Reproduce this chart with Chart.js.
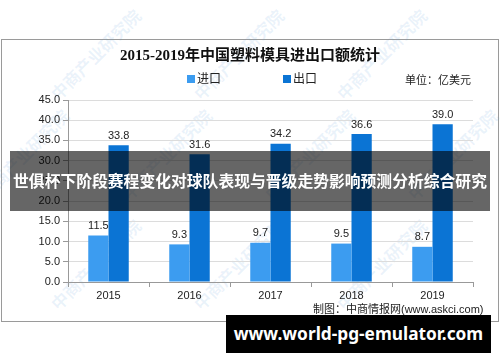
<!DOCTYPE html>
<html>
<head>
<meta charset="utf-8">
<script src="https://cdn.jsdelivr.net/npm/chart.js@4.4.1/dist/chart.umd.min.js"></script>
<style>
  html, body { margin: 0; padding: 0; background: #fff; }
  #wrap { position: relative; width: 500px; height: 362px; overflow: hidden;
          font-family: "Liberation Sans", "Noto Sans CJK SC", sans-serif; color: #222; }
  #frame { position: absolute; left: 1px; top: 39px; width: 496px; height: 281px; border: 1px solid #9a9a9a; }
  #chart { position: absolute; left: 0; top: 0; }
  .txt { position: absolute; white-space: nowrap; line-height: 1; }
  #title { left: 0; width: 500px; top: 48px; text-align: center; font-size: 15px; font-weight: bold;
           font-family: "Liberation Serif", "Noto Sans CJK SC", serif; color: #111; }
  .sq { position: absolute; width: 8px; height: 8px; }
  .wm { position: absolute; white-space: nowrap; font-size: 17px; font-weight: bold;
        color: rgba(90, 155, 215, 0.12); transform: rotate(-45deg); transform-origin: left bottom;
        font-family: "Noto Sans CJK SC", sans-serif; }
  #band { position: absolute; left: 10px; top: 151px; width: 480px; height: 60px; background: rgba(0,0,0,0.6);
          color: #fff; font-weight: bold; font-size: 15.8px; line-height: 60px; text-align: center;
          font-family: "Noto Sans CJK SC", sans-serif; white-space: nowrap; }
  #site { position: absolute; left: 226px; top: 315px; width: 265px; height: 38px; background: #000;
          color: #fff; font-weight: bold; font-size: 17.3px; line-height: 38px; text-align: center;
          font-family: "Noto Sans", "DejaVu Sans", sans-serif; white-space: nowrap; }
</style>
</head>
<body>
<div id="wrap">
  <div id="frame"></div>
  <div class="wm" style="left:62px; top:80px;">中商产业研究院</div>
  <div class="wm" style="left:205px; top:80px;">中商产业研究院</div>
  <div class="wm" style="left:348px; top:80px;">中商产业研究院</div>
  <div class="wm" style="left:-10px; top:180px;">中商产业研究院</div>
  <div class="wm" style="left:133px; top:180px;">中商产业研究院</div>
  <div class="wm" style="left:276px; top:180px;">中商产业研究院</div>
  <div class="wm" style="left:419px; top:180px;">中商产业研究院</div>
  <div class="wm" style="left:62px; top:290px;">中商产业研究院</div>
  <div class="wm" style="left:205px; top:290px;">中商产业研究院</div>
  <div class="wm" style="left:348px; top:290px;">中商产业研究院</div>
  <canvas id="chart" width="500" height="362"></canvas>
  <div id="title" class="txt">2015-2019年中国塑料模具进出口额统计</div>
  <div class="sq" style="left:187px; top:75px; background:#3c9cf0;"></div>
  <div class="txt" style="left:197px; top:73px; font-size:12px;">进口</div>
  <div class="sq" style="left:283px; top:75px; background:#0b74d4;"></div>
  <div class="txt" style="left:293px; top:73px; font-size:12px;">出口</div>
  <div class="txt" style="left:405px; top:75px; font-size:11px;">单位：亿美元</div>
  <div class="txt" style="left:313px; top:304px; font-size:11px;">制图：中商情报网(www.askci.com)</div>
  <div id="band">世俱杯下阶段赛程变化对球队表现与晋级走势影响预测分析综合研究</div>
  <div id="site">www.world-pg-emulator.com</div>
</div>
<script>
// Data
const years = ['2015', '2016', '2017', '2018', '2019'];
const importValues = [11.5, 9.3, 9.7, 9.5, 8.7];
const exportValues = [33.8, 31.6, 34.2, 36.6, 39.0];
const seriesNames = ['进口', '出口'];

// value labels above bars
const valueLabels = {
    id: 'valueLabels',
    afterDatasetsDraw(chart) {
        const ctx = chart.ctx;
        ctx.save();
        ctx.font = '11px "Liberation Sans", sans-serif';
        ctx.fillStyle = '#222';
        ctx.textAlign = 'center';
        ctx.textBaseline = 'bottom';
        chart.data.datasets.forEach((ds, i) => {
            chart.getDatasetMeta(i).data.forEach((bar, j) => {
                ctx.fillText(ds.data[j].toFixed(1), bar.x, bar.y - 4);
            });
        });
        ctx.restore();
    }
};

new Chart(document.getElementById('chart'), {
    type: 'bar',
    data: {
        labels: years,
        datasets: [
            { label: seriesNames[0], data: importValues, backgroundColor: '#3c9cf0', borderWidth: 0 },
            { label: seriesNames[1], data: exportValues, backgroundColor: '#0b74d4', borderWidth: 0 }
        ]
    },
    options: {
        responsive: false,
        animation: false,
        categoryPercentage: 0.5,
        barPercentage: 1.0,
        layout: { padding: { left: 23, right: 27, top: 100, bottom: 58 } },
        plugins: {
            legend: { display: false },
            title: { display: false },
            tooltip: { enabled: false }
        },
        scales: {
            x: {
                grid: { display: true, drawOnChartArea: false, tickLength: 5, color: '#999' },
                border: { display: true, color: '#999' },
                ticks: { color: '#222', padding: 2, font: { size: 11, family: '"Liberation Sans", sans-serif' } },
                afterFit: (s) => { s.height = 22; }
            },
            y: {
                min: 0,
                max: 45,
                ticks: {
                    stepSize: 5,
                    color: '#222',
                    padding: 3,
                    font: { size: 11, family: '"Liberation Sans", sans-serif' },
                    callback: (v) => v.toFixed(1)
                },
                grid: { color: '#dcdcdc', tickLength: 5, tickColor: '#999' },
                border: { display: true, color: '#999' },
                afterFit: (s) => { s.width = 45; }
            }
        }
    },
    plugins: [valueLabels]
});
</script>
</body>
</html>
